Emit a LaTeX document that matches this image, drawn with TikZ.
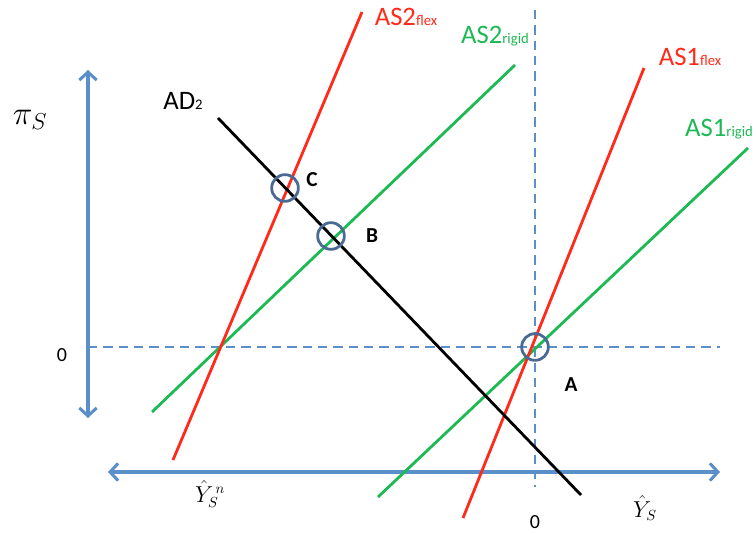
\documentclass[tikz,border=0pt]{standalone}
\usepackage{fontspec}
\setmainfont{Carlito}
\usetikzlibrary{arrows.meta,positioning}
\definecolor{axisblue}{HTML}{5B8FC9}
\definecolor{flexred}{HTML}{FF2A1A}
\definecolor{rigidgreen}{HTML}{1DB954}
\definecolor{ringblue}{HTML}{4A6A94}
\newcommand{\curvelabel}[2]{\fontsize{20}{24}\selectfont #1{\fontsize{11}{13}\selectfont #2}}

\begin{document}
\begin{tikzpicture}[x=0.75pt,y=-0.75pt,>={Straight Barb[length=6pt,width=13pt]}]
  \tikzstyle{axis}=[draw=axisblue,line width=2.3pt,<->]
  \tikzstyle{guide}=[draw=axisblue,line width=2pt,dash pattern=on 7pt off 4.5pt]
  \tikzstyle{curve}=[line width=2.1pt]
  \tikzstyle{ring}=[draw=ringblue,line width=2.1pt,circle,minimum size=20pt,inner sep=0pt]
  \tikzstyle{point}=[font=\fontsize{16}{19}\selectfont\bfseries]
  \useasboundingbox (0,0) rectangle (756,534);
  % axes and guides
  \coordinate (ytop) at (88,70);
  \coordinate (ybot) at (88,418);
  \coordinate (xleft) at (108,472);
  \coordinate (xright) at (720,472);
  \coordinate (hl) at (88,347);
  \coordinate (hr) at (720,347);
  \coordinate (vt) at (535,10);
  \coordinate (vb) at (535,487);
  \draw[guide] (hl) -- (hr);
  \draw[guide] (vt) -- (vb);
  \draw[axis] (ybot) -- (ytop);
  \draw[axis] (xleft) -- (xright);
  % curve end points
  \coordinate (as2f0) at (173,460);
  \coordinate (as2f1) at (362,12);
  \coordinate (as2r0) at (152,412);
  \coordinate (as2r1) at (515,65);
  \coordinate (as1f0) at (463,518);
  \coordinate (as1f1) at (644,68);
  \coordinate (as1r0) at (378,497);
  \coordinate (as1r1) at (748,148);
  \coordinate (ad0) at (218,118);
  \coordinate (ad1) at (581,495);
  \foreach \a/\b/\c in {as2r0/as2r1/rigidgreen,as1r0/as1r1/rigidgreen,as2f0/as2f1/flexred,as1f0/as1f1/flexred,ad0/ad1/black}
    \draw[curve,\c] (\a) -- (\b);
  % equilibria
  \node[ring] (ringC) at (285,188) {};
  \node[ring] (ringB) at (331,236) {};
  \node[ring] (ringA) at (535,347) {};
  \node[point] (labC) at (312,180) {C};
  \node[point] (labB) at (372,236) {B};
  \node[point] (labA) at (571,385) {A};
  % labels
  \node[flexred] (labAS2f) at (406,17) {\curvelabel{AS2}{flex}};
  \node[rigidgreen] (labAS2r) at (495,36) {\curvelabel{AS2}{rigid}};
  \node[flexred] (labAS1f) at (690,57) {\curvelabel{AS1}{flex}};
  \node[rigidgreen] (labAS1r) at (719,129) {\curvelabel{AS1}{rigid}};
  \node (labAD) at (183,101) {\curvelabel{AD}{2}};
  \node (labpi) at (30,120) {\fontsize{24}{28}\selectfont$\pi_S$};
  \node (zeroy) at (62,355) {\fontsize{15}{18}\selectfont 0};
  \node (zerox) at (535,522) {\fontsize{15}{18}\selectfont 0};
  \node (labYn) at (210,494) {\fontsize{16}{19}\selectfont$\hat{Y}_S^{\,n}$};
  \node (labY) at (645,508) {\fontsize{16}{19}\selectfont$\hat{Y}_S$};
\end{tikzpicture}
\end{document}
